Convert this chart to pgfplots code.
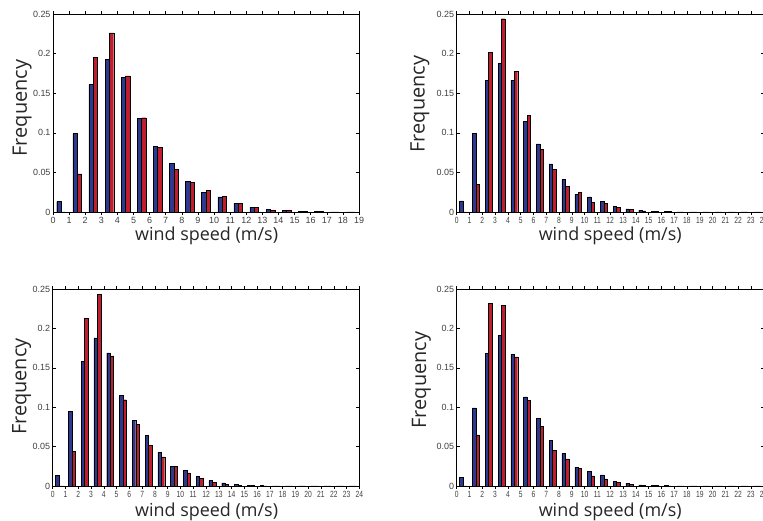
\documentclass[border=0pt]{standalone}
\usepackage{pgfplots}
\pgfplotsset{compat=1.18}
\usepackage{pgfplotstable}
\usepackage{fontspec}
\newfontfamily\labfont{Open Sans}
\newfontfamily\tickfont{Liberation Sans}
\newfontfamily\tickfontn[FakeStretch=0.75]{Liberation Sans}
\definecolor{barblue}{HTML}{2B3990}
\definecolor{barred}{HTML}{BE1E2D}

\pgfplotstableread{
x blue red
0 0.013 0
1 0.099 0.048
2 0.161 0.195
3 0.193 0.226
4 0.170 0.172
5 0.118 0.119
6 0.083 0.082
7 0.061 0.054
8 0.039 0.0375
9 0.0245 0.027
10 0.019 0.020
11 0.011 0.011
12 0.006 0.006
13 0.0035 0.0025
14 0.002 0.002
15 0.001 0.0008
16 0.0005 0.0005
17 0.0003 0.0003
18 0.0001 0.0001
}\dataA

\pgfplotstableread{
x blue red
0 0.014 0
1 0.099 0.0346
2 0.1665 0.202
3 0.188 0.244
4 0.1665 0.1775
5 0.1147 0.1218
6 0.086 0.079
7 0.0607 0.0535
8 0.041 0.032
9 0.0223 0.0245
10 0.019 0.012
11 0.013 0.0105
12 0.0067 0.0055
13 0.0038 0.0034
14 0.002 0.0015
15 0.001 0.0012
16 0.0005 0.0004
17 0.0002 0.0002
18 0.0002 0.0001
19 0.0001 0.0001
20 0.0001 0.0001
21 0.0001 0.0001
22 0.0001 0.0001
23 0.0001 0.0001
}\dataB

\pgfplotstableread{
x blue red
0 0.0135 0
1 0.0948 0.044
2 0.1586 0.2128
3 0.188 0.243
4 0.169 0.165
5 0.115 0.1095
6 0.083 0.078
7 0.0643 0.052
8 0.043 0.0368
9 0.0245 0.025
10 0.0199 0.0165
11 0.0123 0.0097
12 0.0068 0.0047
13 0.004 0.0025
14 0.0017 0.001
15 0.0008 0.0007
16 0.0004 0.0003
17 0.0002 0.0002
18 0.0001 0.0001
19 0.0001 0.0001
20 0.0001 0.0001
21 0.0001 0.0001
22 0.0001 0.0001
23 0.0001 0.0001
}\dataC

\pgfplotstableread{
x blue red
0 0.0114 0
1 0.099 0.065
2 0.168 0.232
3 0.1916 0.229
4 0.167 0.1637
5 0.113 0.1087
6 0.0854 0.0753
7 0.058 0.0448
8 0.0414 0.0343
9 0.024 0.0224
10 0.019 0.0127
11 0.014 0.0089
12 0.0063 0.0047
13 0.0038 0.0025
14 0.0015 0.0012
15 0.001 0.0007
16 0.0004 0.0003
17 0.0002 0.0002
18 0.0001 0.0001
19 0.0001 0.0001
20 0.0001 0.0001
21 0.0001 0.0001
22 0.0001 0.0001
23 0.0001 0.0001
}\dataD

\pgfplotsset{
  windstyle/.style={
    scale only axis,
    anchor=south west,
    xmin=0, ymin=0, ymax=0.25,
    ytick={0,0.05,0.1,0.15,0.2,0.25},
    yticklabels={0,0.05,0.1,0.15,0.2,0.25},
    xtick distance=1,
    /pgf/number format/assume math mode=true,
    tick align=inside,
    major tick length=3bp,
    tick style={black, line width=0.5bp},
    axis line style={black, line width=0.9bp},
    tick label style={text=black!75},
    yticklabel style={font=\tickfont\fontsize{9}{10}\selectfont, xshift=1bp},
    xticklabel style={font=\tickfontn\fontsize{9}{10}\selectfont, yshift=1bp},
    xlabel={wind speed (m/s)},
    ylabel={Frequency},
    xlabel style={font=\labfont\fontsize{18}{20}\selectfont, text=black!85},
    ylabel style={font=\labfont\fontsize{20}{22}\selectfont, text=black!85},
    ybar, bar width=0.27,
  },
  bluebar/.style={fill=barblue, draw=black, line width=0.4bp, bar shift=-0.135},
  redbar/.style={fill=barred, draw=black, line width=0.4bp, bar shift=0.135},
}

\begin{document}
\begin{tikzpicture}[x=1bp,y=1bp]
\useasboundingbox (0,0) rectangle (763,521);
\clip (0,0) rectangle (763,521);

\begin{axis}[windstyle, at={(53bp,309bp)}, width=306bp, height=198bp, xmax=19,
  xticklabel style={font=\tickfont\fontsize{9}{10}\selectfont},
  xlabel style={at={(axis description cs:0.502,-0.146)}, anchor=base},
  ylabel style={at={(axis description cs:-0.101,0.525)}, anchor=center}]
\addplot[bluebar] table[x expr=\thisrow{x}+0.5, y=blue] {\dataA};
\addplot[redbar] table[x expr=\thisrow{x}+0.5, y=red] {\dataA};
\end{axis}

\begin{axis}[windstyle, at={(456.7bp,309bp)}, width=307bp, height=198bp, xmax=24,
  xlabel style={at={(axis description cs:0.5,-0.146)}, anchor=base},
  ylabel style={at={(axis description cs:-0.12,0.545)}, anchor=center}]
\addplot[bluebar] table[x expr=\thisrow{x}+0.5, y=blue] {\dataB};
\addplot[redbar] table[x expr=\thisrow{x}+0.5, y=red] {\dataB};
\end{axis}

\begin{axis}[windstyle, at={(52.7bp,35bp)}, width=306.6bp, height=197bp, xmax=24,
  xlabel style={at={(axis description cs:0.502,-0.157)}, anchor=base},
  ylabel style={at={(axis description cs:-0.101,0.504)}, anchor=center}]
\addplot[bluebar] table[x expr=\thisrow{x}+0.5, y=blue] {\dataC};
\addplot[redbar] table[x expr=\thisrow{x}+0.5, y=red] {\dataC};
\end{axis}

\begin{axis}[windstyle, at={(456.7bp,35bp)}, width=307bp, height=197bp, xmax=24,
  xlabel style={at={(axis description cs:0.5,-0.157)}, anchor=base},
  ylabel style={at={(axis description cs:-0.115,0.538)}, anchor=center}]
\addplot[bluebar] table[x expr=\thisrow{x}+0.5, y=blue] {\dataD};
\addplot[redbar] table[x expr=\thisrow{x}+0.5, y=red] {\dataD};
\end{axis}
\end{tikzpicture}
\end{document}
